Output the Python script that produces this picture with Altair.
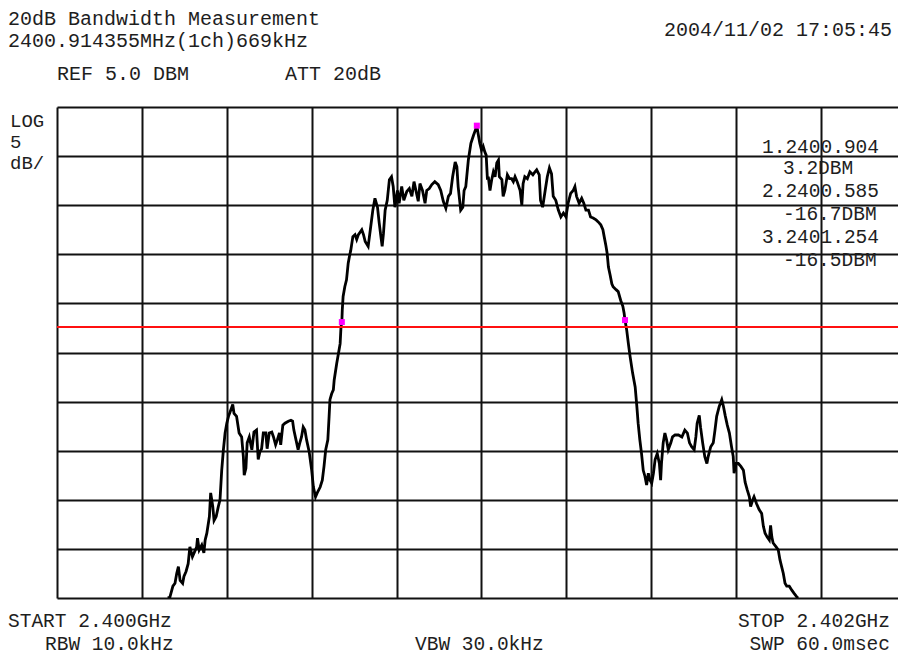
import altair as alt
import pandas as pd

# ---- data ----
# frequency offset from START (MHz) and trace level (dBm)
freq_offset_mhz = [
    0.261, 0.266, 0.273, 0.278, 0.282, 0.286, 0.290, 0.296, 0.299, 0.304, 0.309, 0.313, 0.319, 0.323,
    0.329, 0.331, 0.335, 0.341, 0.346, 0.349, 0.353, 0.359, 0.362, 0.367, 0.370, 0.375, 0.380, 0.384,
    0.388, 0.392, 0.396, 0.400, 0.404, 0.409, 0.414, 0.417, 0.423, 0.429, 0.435, 0.439, 0.441, 0.445,
    0.448, 0.453, 0.459, 0.464, 0.470, 0.474, 0.478, 0.482, 0.486, 0.492, 0.495, 0.500, 0.506, 0.510,
    0.515, 0.519, 0.524, 0.527, 0.532, 0.537, 0.545, 0.551, 0.555, 0.558, 0.563, 0.568, 0.572, 0.576,
    0.580, 0.584, 0.588, 0.594, 0.600, 0.604, 0.609, 0.613, 0.620, 0.625, 0.629, 0.633, 0.638, 0.641,
    0.643, 0.647, 0.651, 0.653, 0.659, 0.663, 0.667, 0.669, 0.671, 0.672, 0.674, 0.678, 0.682, 0.686,
    0.689, 0.692, 0.697, 0.702, 0.706, 0.710, 0.718, 0.722, 0.726, 0.733, 0.739, 0.744, 0.749, 0.755,
    0.759, 0.763, 0.766, 0.769, 0.773, 0.778, 0.783, 0.788, 0.792, 0.796, 0.802, 0.806, 0.812, 0.817,
    0.824, 0.830, 0.836, 0.841, 0.847, 0.851, 0.855, 0.861, 0.867, 0.871, 0.877, 0.883, 0.890, 0.898,
    0.904, 0.910, 0.916, 0.922, 0.927, 0.932, 0.938, 0.942, 0.945, 0.951, 0.956, 0.959, 0.963, 0.969,
    0.975, 0.981, 0.987, 0.989, 0.992, 0.996, 1.000, 1.004, 1.008, 1.011, 1.014, 1.016, 1.020, 1.024,
    1.028, 1.032, 1.036, 1.040, 1.042, 1.048, 1.051, 1.055, 1.061, 1.066, 1.071, 1.075, 1.079, 1.084,
    1.091, 1.095, 1.098, 1.102, 1.108, 1.114, 1.121, 1.126, 1.130, 1.136, 1.139, 1.144, 1.150, 1.155,
    1.160, 1.165, 1.169, 1.175, 1.181, 1.187, 1.193, 1.199, 1.204, 1.210, 1.216, 1.220, 1.224, 1.230,
    1.236, 1.241, 1.246, 1.252, 1.257, 1.263, 1.270, 1.275, 1.281, 1.286, 1.289, 1.293, 1.296, 1.299,
    1.303, 1.307, 1.310, 1.317, 1.322, 1.328, 1.333, 1.336, 1.338, 1.342, 1.346, 1.350, 1.356, 1.362,
    1.366, 1.369, 1.373, 1.377, 1.381, 1.385, 1.389, 1.393, 1.397, 1.401, 1.405, 1.409, 1.414, 1.419,
    1.422, 1.424, 1.428, 1.432, 1.436, 1.440, 1.446, 1.450, 1.456, 1.464, 1.472, 1.479, 1.485, 1.490,
    1.495, 1.501, 1.505, 1.508, 1.513, 1.516, 1.521, 1.526, 1.531, 1.534, 1.540, 1.546, 1.550, 1.554,
    1.560, 1.566, 1.570, 1.574, 1.579, 1.584, 1.589, 1.593, 1.595, 1.600, 1.605, 1.611, 1.617, 1.621,
    1.626, 1.631, 1.634, 1.639, 1.642, 1.648, 1.654, 1.660, 1.664, 1.668, 1.673, 1.678, 1.681, 1.684,
    1.687, 1.694, 1.699, 1.703, 1.707, 1.711, 1.715, 1.719, 1.725, 1.731, 1.736, 1.743, 1.746,
]
level_dbm = [
    -45.0, -44.9, -43.8, -43.5, -42.5, -41.8, -43.2, -43.5, -42.8, -42.3, -41.5, -39.8, -40.8, -40.4,
    -39.8, -38.9, -40.1, -39.6, -40.4, -39.1, -38.4, -36.7, -34.3, -35.7, -37.1, -36.7, -35.7, -35.0,
    -32.0, -29.9, -28.2, -27.2, -26.5, -25.9, -25.3, -26.2, -26.5, -28.2, -28.6, -30.6, -32.5, -31.8,
    -29.2, -28.6, -29.9, -28.1, -27.9, -30.9, -30.1, -29.8, -28.2, -28.2, -29.8, -28.2, -28.1, -28.6,
    -29.4, -28.9, -28.2, -29.4, -27.4, -27.2, -27.0, -26.9, -27.0, -27.9, -28.9, -29.9, -29.2, -28.6,
    -27.6, -27.9, -28.9, -30.1, -32.0, -33.7, -34.7, -34.3, -33.7, -33.0, -31.6, -29.9, -28.9, -26.5,
    -24.8, -24.2, -23.8, -22.8, -21.1, -20.1, -19.1, -17.4, -16.9, -15.7, -14.3, -13.3, -12.6, -10.9,
    -10.2, -9.6, -8.2, -8.0, -8.5, -8.0, -7.5, -8.0, -8.7, -9.2, -7.2, -5.5, -4.3, -5.2,
    -6.8, -8.2, -9.2, -7.9, -5.5, -4.5, -2.4, -2.1, -3.1, -5.2, -3.5, -4.8, -3.1, -4.5,
    -3.6, -3.3, -4.1, -2.6, -3.8, -4.6, -2.8, -3.5, -4.8, -3.5, -3.3, -2.9, -2.6, -2.9,
    -3.5, -4.6, -5.3, -4.1, -3.8, -2.1, -0.6, -1.1, -3.1, -5.5, -5.2, -3.5, -3.1, -0.4,
    1.3, 2.1, 2.8, 3.1, 2.3, 1.3, 0.6, 1.0, 0.4, 0.1, -2.4, -2.1, -3.5, -2.4,
    -1.6, -2.1, -0.7, -0.4, -2.1, -2.4, -4.1, -3.5, -1.9, -2.3, -2.3, -2.6, -2.1, -2.6,
    -3.5, -5.0, -2.8, -2.1, -2.3, -1.6, -1.9, -1.6, -1.4, -1.9, -4.5, -5.2, -3.5, -2.1,
    -1.2, -1.8, -4.1, -4.5, -5.5, -6.2, -5.8, -6.2, -4.8, -3.8, -3.5, -3.1, -4.1, -4.8,
    -4.3, -4.8, -5.5, -5.5, -6.2, -6.3, -6.5, -6.7, -7.0, -7.5, -8.2, -9.1, -9.9, -11.3,
    -12.1, -13.0, -13.3, -13.6, -13.8, -14.7, -15.3, -16.0, -16.7, -17.7, -19.1, -20.4, -22.1, -23.5,
    -25.5, -27.2, -28.9, -30.3, -32.0, -32.6, -33.5, -32.3, -33.0, -33.3, -32.3, -30.9, -30.3, -31.3,
    -33.0, -31.3, -29.2, -28.2, -28.9, -29.9, -29.2, -28.6, -28.4, -28.4, -28.6, -27.9, -28.2, -29.2,
    -29.6, -29.9, -28.6, -27.2, -26.4, -27.6, -29.2, -30.6, -31.3, -30.6, -29.6, -29.2, -27.9, -26.5,
    -25.5, -24.8, -25.5, -26.4, -27.4, -28.2, -29.6, -30.6, -32.3, -31.3, -31.3, -31.6, -32.0, -33.2,
    -34.0, -34.7, -35.7, -35.0, -34.7, -35.4, -36.0, -36.4, -37.7, -38.4, -38.8, -39.1, -37.6, -38.8,
    -39.4, -39.8, -40.1, -41.1, -41.8, -42.5, -43.5, -43.8, -43.8, -44.2, -44.5, -44.9, -45.0,
]

marker_freq = [0.989, 0.671, 1.338]
marker_level = [3.1, -16.9, -16.7]
threshold_dbm = [-17.4]

x_grid = [0, 0.2, 0.4, 0.6, 0.8, 1.0, 1.2, 1.4, 1.6, 1.8, 2.0]
y_grid = [5, 0, -5, -10, -15, -20, -25, -30, -35, -40, -45]

title_lines = ["20dB Bandwidth Measurement", "2400.914355MHz(1ch)669kHz"]
ref_text = "REF 5.0 DBM"
att_text = "ATT 20dB"
date_text = "2004/11/02 17:05:45"
scale_lines = ["LOG", "5", "dB/"]
marker_lines = ["1.2400.904", "3.2DBM", "2.2400.585", "-16.7DBM", "3.2401.254", "-16.5DBM"]
start_text = "START 2.400GHz"
stop_text = "STOP 2.402GHz"
rbw_text = "RBW 10.0kHz"
vbw_text = "VBW 30.0kHz"
swp_text = "SWP 60.0msec"

FONT = "Liberation Mono"
TXT = "#1e1e1e"

# the screen's right border falls just at the picture's right edge: the visible
# part of the 2 MHz span is a little less than the full span
PLOT_W = 841
PX_PER_MHZ = 424.5
x_max = PLOT_W / PX_PER_MHZ

trace = pd.DataFrame({"f": freq_offset_mhz, "d": level_dbm})
marks = pd.DataFrame({"f": marker_freq, "d": marker_level})
thr = pd.DataFrame({"d": threshold_dbm})

xs = alt.Scale(domain=[0, x_max], nice=False, zero=False)
ys = alt.Scale(domain=[-45, 5], nice=False, zero=False)

xaxis = alt.Axis(values=[v for v in x_grid if v <= x_max], grid=True, labels=False, ticks=False,
                 domain=False, title=None, gridColor="#111111", gridWidth=2, gridOpacity=1)
yaxis = alt.Axis(values=y_grid, grid=True, labels=False, ticks=False, domain=False, title=None,
                 gridColor="#111111", gridWidth=2, gridOpacity=1)

line = alt.Chart(trace).mark_line(color="black", strokeWidth=2.8, clip=True).encode(
    x=alt.X("f:Q", scale=xs, axis=xaxis),
    y=alt.Y("d:Q", scale=ys, axis=yaxis),
)

rule = alt.Chart(thr).mark_rule(color="#ff1010", strokeWidth=2).encode(
    y=alt.Y("d:Q", scale=ys)
)

pts = alt.Chart(marks).mark_square(color="#ff00ff", size=36, opacity=1).encode(
    x=alt.X("f:Q", scale=xs), y=alt.Y("d:Q", scale=ys)
)


def txt(s, x, y, align="left", size=20):
    return alt.Chart(pd.DataFrame({"t": [s]})).mark_text(
        font=FONT, fontSize=size, color=TXT, align=align, baseline="alphabetic"
    ).encode(text="t:N", x=alt.value(x), y=alt.value(y))


texts = [
    txt(title_lines[0], -49, -82.5),
    txt(title_lines[1], -49, -60),
    txt(ref_text, 0, -27),
    txt(att_text, 228, -27),
    txt(date_text, 835, -71, align="right"),
    txt(scale_lines[0], -47, 20, size=19),
    txt(scale_lines[1], -47, 41, size=19),
    txt(scale_lines[2], -47, 62, size=19),
    txt(marker_lines[0], 705, 46, size=19.5),
    txt(marker_lines[1], 726, 67, size=19.5),
    txt(marker_lines[2], 705, 90, size=19.5),
    txt(marker_lines[3], 726, 113, size=19.5),
    txt(marker_lines[4], 705, 136, size=19.5),
    txt(marker_lines[5], 726, 159, size=19.5),
    txt(start_text, -49, 519.5, size=19.5),
    txt(stop_text, 833, 519.5, align="right", size=19.5),
    txt(rbw_text, -12, 542.5, size=19.5),
    txt(vbw_text, 358, 542.5, size=19.5),
    txt(swp_text, 833, 542.5, align="right", size=19.5),
]

chart = alt.layer(line, rule, pts, *texts).properties(
    width=PLOT_W,
    height=491,
    autosize=alt.AutoSizeParams(type="none"),
    padding={"left": 49, "top": 99, "right": 0, "bottom": 57},
    background="white",
).configure_view(stroke=None)

chart.save("out.html", embed_options={"renderer": "svg", "actions": False})
